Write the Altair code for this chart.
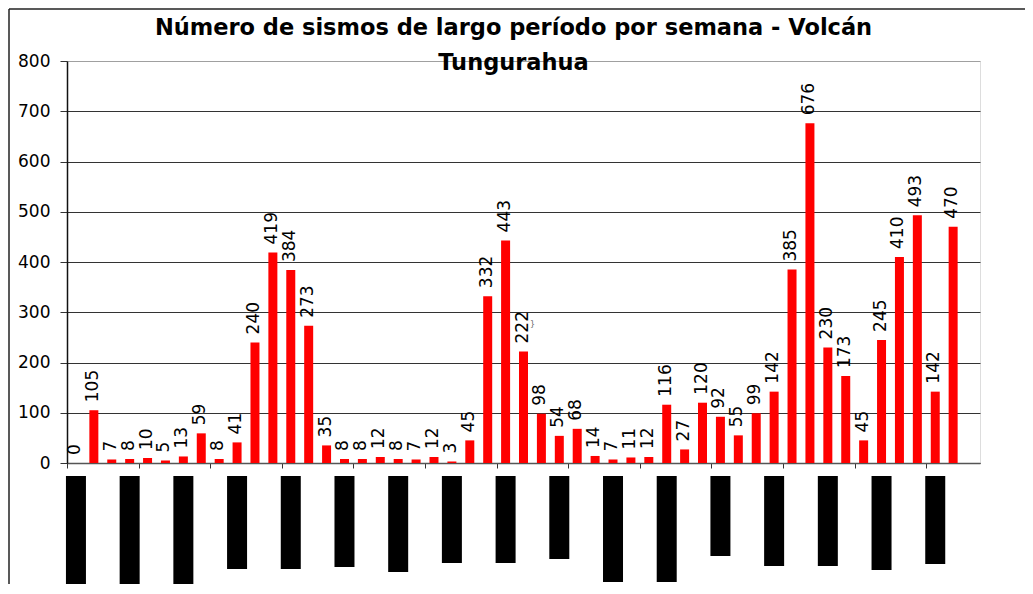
import altair as alt
import pandas as pd

# Weekly long-period earthquake counts (one value per week)
weekly_counts = [0, 105, 7, 8, 10, 5, 13, 59, 8, 41,
                 240, 419, 384, 273, 35, 8, 8, 12, 8, 7,
                 12, 3, 45, 332, 443, 222, 98, 54, 68, 14,
                 7, 11, 12, 116, 27, 120, 92, 55, 99, 142,
                 385, 676, 230, 173, 45, 245, 410, 493, 142, 470]
week_index = list(range(1, len(weekly_counts) + 1))
n_slots = 51  # last slot is empty in the original

# Category labels (dates) that render as solid black blocks, every 3rd week
label_weeks = list(range(1, 50, 3))
label_top = [-26] * len(label_weeks)
label_bottom = [-251, -251, -257, -211, -211, -207, -217, -199, -199,
                -191, -237, -237, -185, -205, -205, -213, -201]

# stray mark in the original picture
stray_x = [26.5]
stray_y = [275]
stray_txt = ["}"]

title_lines = ["Número de sismos de largo período por semana - Volcán", "Tungurahua"]

W, H = 913, 402
FONT = "DejaVu Sans"

bars_df = pd.DataFrame({"week": week_index, "count": weekly_counts})
blocks_df = pd.DataFrame({"week": label_weeks, "top": label_top, "bottom": label_bottom})
stray_df = pd.DataFrame({"x": stray_x, "y": stray_y, "t": stray_txt})
one_df = pd.DataFrame({"a": [0]})

x_scale = alt.Scale(domain=[0.5, n_slots + 0.5], nice=False, zero=False, padding=0)
y_scale = alt.Scale(domain=[0, 800], nice=False)

x_axis = alt.Axis(values=[i + 0.5 for i in range(0, n_slots + 1)], labels=False,
                  title=None, grid=False, tickSize=5, tickColor="#333333",
                  domainColor="#555555", domainWidth=1.5)
y_axis = alt.Axis(values=list(range(0, 801, 100)), title=None, grid=True,
                  gridColor={"expr": "datum.value === 800 ? '#a0a0a0' : '#333333'"},
                  gridWidth=1, tickSize=7, tickColor="#333333",
                  domainColor="#111111", domainWidth=1.5,
                  labelFont=FONT, labelFontSize=17, labelColor="#000000",
                  labelPadding=10)

bars = alt.Chart(bars_df).mark_bar(color="#ff0000", width=9).encode(
    x=alt.X("week:Q", scale=x_scale, axis=x_axis),
    y=alt.Y("count:Q", scale=y_scale, axis=y_axis),
)

labels = alt.Chart(bars_df).mark_text(
    angle=270, align="left", baseline="middle", dx=8, dy=-1,
    font=FONT, fontSize=17, color="#000000"
).encode(
    x=alt.X("week:Q", scale=x_scale),
    y=alt.Y("count:Q", scale=y_scale),
    text=alt.Text("count:Q"),
)

blocks = alt.Chart(blocks_df).mark_bar(color="#000000", width=20, clip=False).encode(
    x=alt.X("week:Q", scale=x_scale),
    y=alt.Y("top:Q", scale=y_scale),
    y2="bottom:Q",
)

stray = alt.Chart(stray_df).mark_text(fontSize=8, color="#666666", font=FONT).encode(
    x=alt.X("x:Q", scale=x_scale),
    y=alt.Y("y:Q", scale=y_scale),
    text="t:N",
)

frame_left = alt.Chart(one_df).mark_rule(color="#222222", strokeWidth=1.5).encode(
    x=alt.value(-58), y=alt.value(-52), y2=alt.value(H + 200)
)
frame_top = alt.Chart(one_df).mark_rule(color="#222222", strokeWidth=1.5).encode(
    y=alt.value(-52), x=alt.value(-58), x2=alt.value(W + 100)
)

chart = alt.layer(frame_left, frame_top, blocks, bars, labels, stray).properties(
    width=W, height=H,
    title=alt.TitleParams(text=title_lines, font=FONT, fontSize=22.5, fontWeight="bold",
                          color="#000000", anchor="middle", frame="group",
                          lineHeight=35, dx=-10, offset=-66),
    autosize=alt.AutoSizeParams(type="none"),
    padding={"left": 59, "top": 53, "right": 45, "bottom": 121},
).configure_view(stroke="#a0a0a0", strokeWidth=2).configure(background="#ffffff")

chart.save("out.html", embed_options={"renderer": "svg", "actions": False})
